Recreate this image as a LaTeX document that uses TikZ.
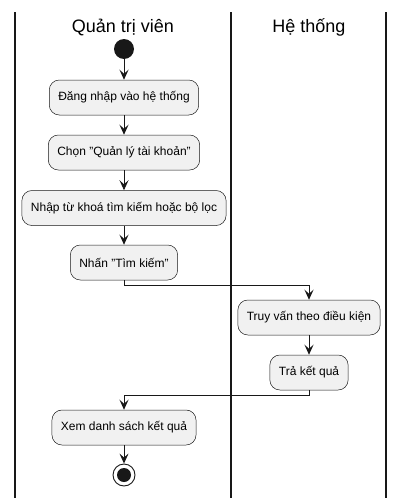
\documentclass[tikz,border=0pt]{standalone}
\usepackage{fontspec}
\setmainfont{Liberation Sans}
\usetikzlibrary{arrows.meta}
\definecolor{actfill}{HTML}{F1F1F1}
\definecolor{actline}{HTML}{181818}

\begin{document}
\begin{tikzpicture}[x=1pt,y=-1pt,
    act/.style={draw=actline, fill=actfill, line width=0.5pt, rounded corners=10pt,
      minimum height=35pt, inner xsep=9pt, font=\fontsize{12}{14}\selectfont},
    flow/.style={draw=actline, line width=0.9pt,
      -{Stealth[length=10pt,width=9pt,inset=4pt]}},
    lane/.style={draw=actline, line width=1.5pt},
    title/.style={font=\fontsize{18}{21}\selectfont}]
    \useasboundingbox (0,0) rectangle (404,498);

    % Draw Swimlanes
    \draw[lane] (15,12) -- (15,498);
    \draw[lane] (231,12) -- (231,498);
    \draw[lane] (386,12) -- (386,498);

    % Lane Titles
    \node[title] (admin) at (123,27) {Quản trị viên};
    \node[title] (sys) at (309,27) {Hệ thống};

    % Start
    \node[circle, fill=actline, minimum size=20pt, inner sep=0pt] (start) at (124,49) {};

    % Activities
    % -- admin lane
    \node[act] (login) at (124,97.5) {Đăng nhập vào hệ thống};
    \node[act] (choose) at (124,152.5) {Chọn "Quản lý tài khoản"};
    \node[act] (keyword) at (124,208) {Nhập từ khoá tìm kiếm hoặc bộ lọc};
    \node[act] (search) at (124,262.5) {Nhấn "Tìm kiếm"};
    % -- system lane
    \node[act] (query) at (309,317.5) {Truy vấn theo điều kiện};
    \node[act] (result) at (309,372.5) {Trả kết quả};
    % -- back to admin
    \node[act] (list) at (124,427.5) {Xem danh sách kết quả};

    % Stop
    \node[circle, draw=actline, line width=0.9pt, fill=white, minimum size=22pt, inner sep=0pt] (stop) at (124,475) {};
    \node[circle, fill=actline, minimum size=14pt, inner sep=0pt] (stopdot) at (stop) {};

    % Flow
    \draw[flow] (start) -- (login);
    \draw[flow] (login) -- (choose);
    \draw[flow] (choose) -- (keyword);
    \draw[flow] (keyword) -- (search);
    \draw[flow] (search.south) -- ++(0,5) -| (query.north);
    \draw[flow] (query) -- (result);
    \draw[flow] (result.south) -- ++(0,5) -| (list.north);
    \draw[flow] (list) -- (stop);
\end{tikzpicture}
\end{document}
